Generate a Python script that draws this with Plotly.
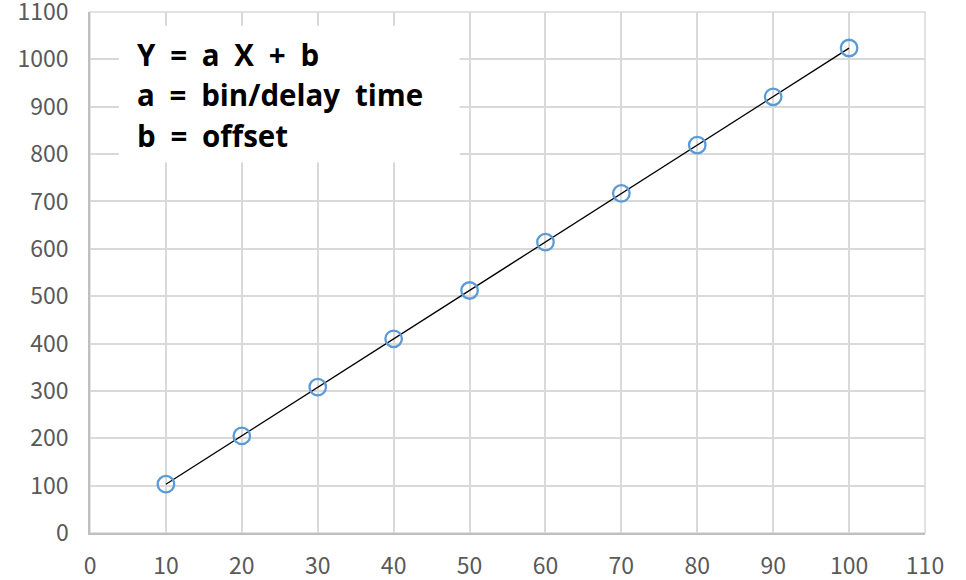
import numpy as np
import plotly.graph_objects as go

# Measured samples
x_vals = [10, 20, 30, 40, 50, 60, 70, 80, 90, 100]
y_vals = [103, 205, 308, 410, 512, 614, 717, 819, 921, 1024]

x_ticks = list(range(0, 111, 10))
y_ticks = list(range(0, 1101, 100))

label_lines = ["Y = a X + b", "a = bin/delay time", "b = offset"]

# Linear trend line over the data range
slope, intercept = np.polyfit(x_vals, y_vals, 1)
fit_x = [min(x_vals), max(x_vals)]
fit_y = [slope * v + intercept for v in fit_x]

fig = go.Figure()
fig.add_trace(go.Scatter(
    x=fit_x, y=fit_y, mode="lines",
    line=dict(color="black", width=1.3),
    hoverinfo="skip", showlegend=False,
))
fig.add_trace(go.Scatter(
    x=x_vals, y=y_vals, mode="markers",
    marker=dict(symbol="circle-open", size=16.5, color="#5B9BD5",
                line=dict(width=2.3, color="#5B9BD5")),
    showlegend=False,
))

tick_font = dict(family="Noto Sans CJK KR, Open Sans, sans-serif", size=23, color="#595959")

fig.update_xaxes(
    range=[0, 110], tickvals=x_ticks, ticktext=[str(v) for v in x_ticks],
    showgrid=True, gridcolor="#D9D9D9", gridwidth=1.5,
    showline=True, linecolor="#BFBFBF", linewidth=1.5,
    zeroline=False, ticks="", tickfont=tick_font, ticklabelstandoff=12,
    ticklabeloverflow="allow", automargin=False,
)
fig.update_yaxes(
    range=[0, 1100], tickvals=y_ticks, ticktext=[str(v) for v in y_ticks],
    showgrid=True, gridcolor="#D9D9D9", gridwidth=1.5,
    showline=True, linecolor="#BFBFBF", linewidth=1.5,
    zeroline=False, ticks="", tickfont=tick_font, ticklabelstandoff=15,
    ticklabeloverflow="allow", automargin=False,
)

# Right and top plot border in grid colour
fig.add_shape(type="rect", xref="paper", yref="paper", x0=0, x1=1, y0=0, y1=1,
              line=dict(color="#D9D9D9", width=1.5), layer="below")

# White text box
fig.add_shape(type="rect", x0=3.8, x1=48.7, y0=783, y1=1071,
              fillcolor="white", line=dict(width=0), layer="above")

label_y = [1009.3, 924.8, 840.3]
for txt, yy in zip(label_lines, label_y):
    fig.add_annotation(
        x=5.9, y=yy, text="<b>" + txt.replace(" ", "\u2002") + "</b>", showarrow=False,
        xanchor="left", yanchor="middle",
        font=dict(family="Open Sans, sans-serif", size=29.5, color="black"),
    )

fig.update_layout(
    width=966, height=580,
    margin=dict(l=90, r=41, t=12, b=47),
    paper_bgcolor="white", plot_bgcolor="white",
)

fig.write_html("out.html")
